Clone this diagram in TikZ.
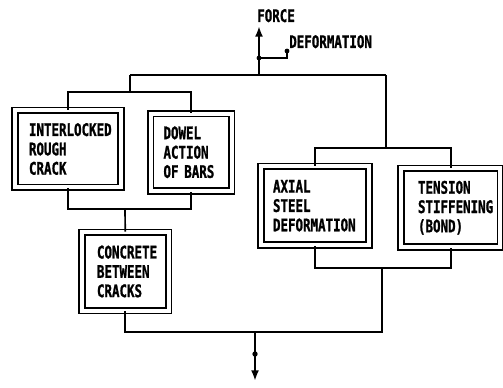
\documentclass[tikz,border=0pt]{standalone}
\usepackage{fontspec}
\newfontfamily\plotfont[FakeStretch=0.72, BoldFeatures={FakeBold=1.2}]{DejaVu Sans Mono}
\usetikzlibrary{arrows.meta}
\tikzset{
  blk/.style={draw, double, line width=1.2pt, double distance=3pt, align=left,
    inner ysep=0pt, font=\plotfont\bfseries\fontsize{13pt}{14.5pt}\selectfont},
  lbl/.style={inner sep=0pt, font=\plotfont\bfseries\fontsize{13pt}{14.5pt}\selectfont},
  wire/.style={line width=1.25pt},
  arr/.style={line width=1.8pt, -{Latex[length=8pt,width=6pt]}}
}
\begin{document}
\begin{tikzpicture}[x=0.75pt,y=-0.75pt]
\useasboundingbox (0,0) rectangle (503,388);

\node[blk, minimum width=79.5pt, minimum height=57.75pt, text width=58.5pt, inner xsep=10.5pt] (rough) at (68,149) {INTERLOCKED\\ROUGH\\CRACK};
\node[blk, minimum width=60.75pt, minimum height=58.1pt, text width=41.25pt, inner xsep=9.75pt] (dowel) at (191,152.25) {DOWEL\\ACTION\\OF BARS};
\node[blk, minimum width=64.9pt, minimum height=58.5pt, text width=42.4pt, inner xsep=11.25pt] (concrete) at (125.25,271.5) {CONCRETE\\BETWEEN\\CRACKS};
\node[blk, minimum width=81pt, minimum height=58.9pt, text width=63pt, inner xsep=9pt] (axial) at (315,205.75) {AXIAL\\STEEL\\DEFORMATION};
\node[blk, minimum width=74.6pt, minimum height=58.9pt, text width=49.1pt, inner xsep=12.75pt] (bond) at (450.75,207.75) {TENSION\\STIFFENING\\(BOND)};

\node[lbl, anchor=base west] (force) at (257,22) {FORCE};
\node[lbl, anchor=base west] (deform) at (289,48) {DEFORMATION};

\coordinate (top) at (259,75);
\coordinate (topl) at (130,75);
\coordinate (topr) at (386,75);
\coordinate (lsplit) at (130,92);
\coordinate (rsplit) at (386,148);
\coordinate (ljoin) at (125,209);
\coordinate (rjoin) at (382,268);
\coordinate (bot) at (255,332);
\coordinate (botdot) at (255,354);
\coordinate (bottip) at (255,381);
\coordinate (ftip) at (259,26);
\coordinate (fdot) at (259,58);
\coordinate (ddot) at (287,51);

% tree of connections
\draw[wire] (topl) -- (topr);
\draw[wire] (topl) -- (lsplit);
\draw[wire] (rough.north) |- (lsplit) -| (dowel.north);
\draw[wire] (topr) -- (rsplit);
\draw[wire] (axial.north) |- (rsplit) -| (bond.north);
\draw[wire] (rough.south) |- (ljoin) -| (dowel.south);
\draw[wire] (ljoin) -- (concrete.north);
\draw[wire] (axial.south) |- (rjoin) -| (bond.south);
\draw[wire] (concrete.south) |- (bot) -| (rjoin);

% force and deformation
\draw[arr] (top) -- (ftip);
\draw[wire] (fdot) -| (ddot);
\fill (fdot) circle (1.8pt);
\fill (ddot) circle (1.8pt);
\draw[arr] (bot) -- (bottip);
\fill (botdot) circle (2pt);
\end{tikzpicture}
\end{document}
